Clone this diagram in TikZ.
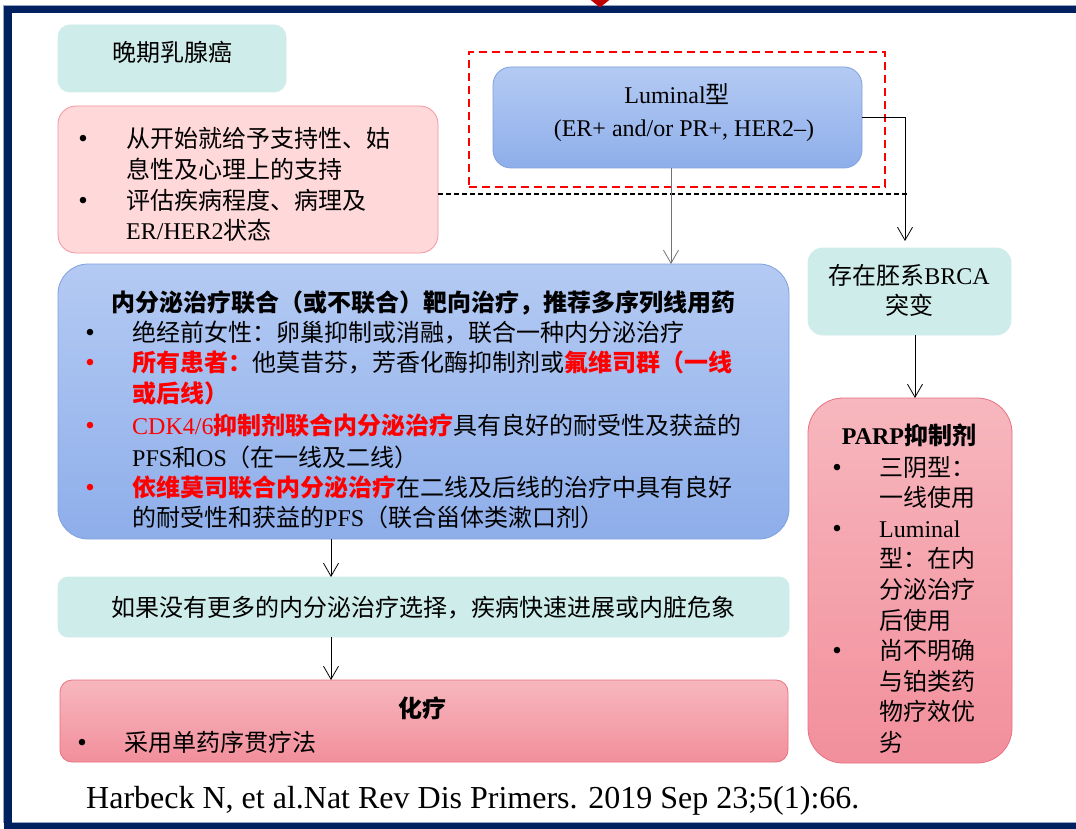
\documentclass[tikz,border=0pt]{standalone}
\usepackage{fontspec}
\setmainfont{Liberation Serif}
\newfontfamily\cjk{Noto Sans CJK SC}
\usetikzlibrary{arrows.meta,calc}
\newcommand\zh[1]{{\cjk #1}}
\definecolor{navy}{RGB}{0,32,96}
\definecolor{frameline}{RGB}{150,165,195}
\definecolor{darkred}{RGB}{192,0,0}
\definecolor{cyanfill}{RGB}{206,237,234}
\definecolor{pinkfill}{RGB}{255,216,218}
\definecolor{pinkdraw}{RGB}{242,150,160}
\definecolor{bluetop}{RGB}{180,202,243}
\definecolor{bluebot}{RGB}{142,174,234}
\definecolor{bluedraw}{RGB}{128,160,222}
\definecolor{redtop}{RGB}{247,183,190}
\definecolor{redbot}{RGB}{242,143,156}
\definecolor{reddraw}{RGB}{232,112,128}
\definecolor{hot}{RGB}{255,0,0}
\begin{document}
\begin{tikzpicture}[x=1pt,y=-1pt,
  box/.style={rectangle,inner sep=0,outer sep=0,line width=0.8pt},
  cyanbox/.style={box,draw=cyanfill,fill=cyanfill,rounded corners=12pt},
  pinkbox/.style={box,draw=pinkdraw,fill=pinkfill,rounded corners=18pt},
  bluebox/.style={box,draw=bluedraw,top color=bluetop,bottom color=bluebot},
  redbox/.style={box,draw=reddraw,top color=redtop,bottom color=redbot},
  txt/.style={anchor=base west,inner sep=0,font=\fontsize{24}{28}\selectfont},
  ctxt/.style={anchor=base,inner sep=0,font=\fontsize{24}{28}\selectfont},
  bul/.style={anchor=base,inner sep=0,font=\fontsize{27}{30}\selectfont},
  arr/.style={-{Straight Barb[length=13pt,width=15pt]},line width=0.8pt,black},
]
\useasboundingbox (0,0) rectangle (1076,829);
% frame
\begin{scope}
\clip (0,0) rectangle (1076,829);
\fill[white] (0,0) rectangle (1076,829);
\draw[frameline,line width=1pt] (3.5,5.5) rectangle (1100,822.5);
\draw[navy,line width=7.5pt] (8,9.5) rectangle (1100,827);
\fill[darkred] (587,-3) -- (613,-3) -- (600,7.5) -- cycle;
\end{scope}

% boxes
\node[cyanbox,minimum width=228pt,minimum height=67pt] (stage) at (172,58.5) {};
\node[pinkbox,minimum width=380pt,minimum height=147pt] (support) at (248,179.5) {};
\node[bluebox,rounded corners=18pt,minimum width=369pt,minimum height=101pt] (lum) at (677.5,117.5) {};
\node[box,draw=hot,line width=1.8pt,dash pattern=on 8pt off 5pt,minimum width=416pt,minimum height=135pt] (sel) at (677,119.5) {};
\node[bluebox,rounded corners=30pt,minimum width=731pt,minimum height=275pt] (endo) at (423.5,401.5) {};
\node[cyanbox,rounded corners=10pt,minimum width=731pt,minimum height=60pt] (cond) at (423.5,607) {};
\node[redbox,rounded corners=12pt,minimum width=728pt,minimum height=82pt] (chemo) at (424,721) {};
\node[cyanbox,rounded corners=15pt,minimum width=203pt,minimum height=87pt] (brca) at (909.5,291.5) {};
\node[redbox,rounded corners=35pt,minimum width=204pt,minimum height=365pt] (parp) at (910,580.5) {};

% connectors
\coordinate (dashend) at (907,194);
\draw[black,line width=1.6pt,dash pattern=on 5pt off 3pt] ([yshift=-14.5pt]support.east) -- (dashend);
\draw[arr,draw=gray!90!black] ([xshift=-6.5pt]lum.south) -- ([xshift=-6.5pt]lum.south |- endo.north);
\draw[arr] (lum.east) -| ([xshift=-4.5pt,yshift=7pt]brca.north);
\draw[arr] ([xshift=-92.5pt]endo.south) -- ([xshift=-92.5pt]endo.south |- cond.north);
\draw[arr] ([xshift=-92.5pt]cond.south) -- ([xshift=-92.5pt]cond.south |- chemo.north);
\draw[arr] ([xshift=5.5pt]brca.south) -- ([xshift=5.5pt]brca.south |- parp.north);

% texts: stage
\node[ctxt] (stageT) at (172,62) {\zh{晚期乳腺癌}};
% support
\node[bul] (sb1) at (83,148) {•};
\node[txt] (st1) at (126,148) {\zh{从开始就给予支持性、姑}};
\node[txt] (st2) at (126,179) {\zh{息性及心理上的支持}};
\node[bul] (sb2) at (83,210) {•};
\node[txt] (st3) at (126,210) {\zh{评估疾病程度、病理及}};
\node[txt] (st4) at (126,240) {ER/HER2\zh{状态}};
% luminal
\node[ctxt] (lumT1) at (677,104) {Luminal\zh{型}};
\node[ctxt] (lumT2) at (684,137) {(ER+ and/or PR+, HER2–)};
% endocrine
\node[ctxt] (endoT) at (423,311) {\bfseries\zh{内分泌治疗联合（或不联合）靶向治疗，推荐多序列线用药}};
\node[bul] (eb1) at (90,341) {•};
\node[txt] (et1) at (132,341) {\zh{绝经前女性：卵巢抑制或消融，联合一种内分泌治疗}};
\node[bul,text=hot] (eb2) at (90,371) {•};
\node[txt] (et2) at (132,371) {\textcolor{hot}{\bfseries\zh{所有患者：}}\zh{他莫昔芬，芳香化酶抑制剂或}\textcolor{hot}{\bfseries\zh{氟维司群（一线}}};
\node[txt,text=hot] (et3) at (132,402) {\bfseries\zh{或后线）}};
\node[bul,text=hot] (eb3) at (90,434) {•};
\node[txt] (et4) at (132,434) {\textcolor{hot}{CDK4/6\bfseries\zh{抑制剂联合内分泌治疗}}\zh{具有良好的耐受性及获益的}};
\node[txt] (et5) at (132,466) {PFS\zh{和}OS\zh{（在一线及二线）}};
\node[bul,text=hot] (eb4) at (90,496) {•};
\node[txt] (et6) at (132,496) {\textcolor{hot}{\bfseries\zh{依维莫司联合内分泌治疗}}\zh{在二线及后线的治疗中具有良好}};
\node[txt] (et7) at (132,526) {\zh{的耐受性和获益的}PFS\zh{（联合甾体类漱口剂）}};
% condition
\node[ctxt] (condT) at (423,616) {\zh{如果没有更多的内分泌治疗选择，疾病快速进展或内脏危象}};
% chemo
\node[ctxt] (chemoT) at (422,717) {\bfseries\zh{化疗}};
\node[bul] (cb1) at (82,751) {•};
\node[txt] (ct1) at (124,751) {\zh{采用单药序贯疗法}};
% brca
\node[ctxt] (brcaT1) at (909,284) {\zh{存在胚系}BRCA};
\node[ctxt] (brcaT2) at (909,314) {\zh{突变}};
% parp
\node[ctxt] (parpT) at (909,444) {\bfseries PARP\zh{抑制剂}};
\node[bul] (pb1) at (837,476) {•};
\node[txt] (pt1) at (879,476) {\zh{三阴型：}};
\node[txt] (pt2) at (879,506.6) {\zh{一线使用}};
\node[bul] (pb2) at (837,537.2) {•};
\node[txt] (pt3) at (879,537.2) {Luminal};
\node[txt] (pt4) at (879,567.8) {\zh{型：在内}};
\node[txt] (pt5) at (879,598.4) {\zh{分泌治疗}};
\node[txt] (pt6) at (879,629) {\zh{后使用}};
\node[bul] (pb3) at (837,659.6) {•};
\node[txt] (pt7) at (879,659.6) {\zh{尚不明确}};
\node[txt] (pt8) at (879,690.2) {\zh{与铂类药}};
\node[txt] (pt9) at (879,720.8) {\zh{物疗效优}};
\node[txt] (pt10) at (879,751.4) {\zh{劣}};
% citation
\node[anchor=base west,inner sep=0,font=\fontsize{32}{36}\selectfont] (cite) at (86,808) {Harbeck N, et al.Nat Rev Dis Primers. 2019 Sep 23;5(1):66.};
\end{tikzpicture}
\end{document}
